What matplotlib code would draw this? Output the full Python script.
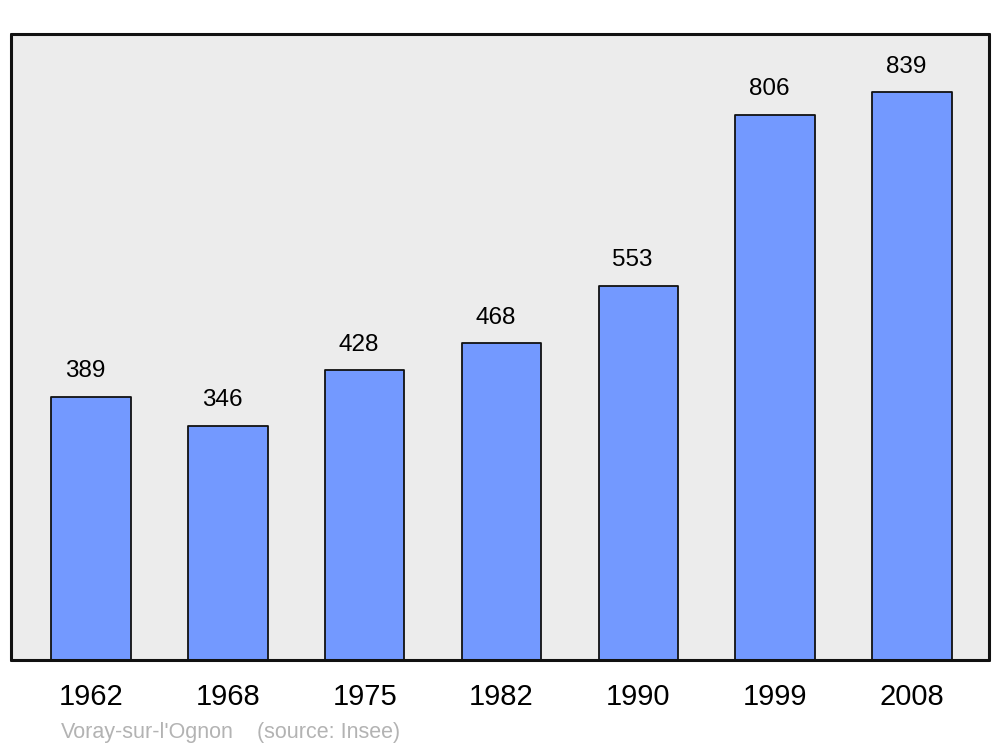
import matplotlib
matplotlib.use("Agg")
import matplotlib.pyplot as plt

years = ["1962", "1968", "1975", "1982", "1990", "1999", "2008"]
population = [389, 346, 428, 468, 553, 806, 839]
commune = "Voray-sur-l'Ognon"
source = "(source: Insee)"

plt.rcParams["font.family"] = ["Liberation Sans", "DejaVu Sans"]

fig = plt.figure(figsize=(10, 7.47), dpi=100)
ax = fig.add_axes([0.011, 0.1165, 0.978, 0.838])
ax.set_facecolor("#ececec")

x = range(len(years))
bars = ax.bar(x, population, width=0.58, color="#7399ff",
              edgecolor="#111111", linewidth=1.3)
for b in bars:
    b.set_joinstyle("round")

for xi, v in zip(x, population):
    ax.annotate(str(v), (xi, v), xytext=(-4, 10.5), textcoords="offset points",
                ha="center", va="bottom", fontsize=17.5)

ax.set_xlim(-0.585, 6.564)
ax.set_ylim(0, 925)
ax.set_xticks(list(x))
ax.set_xticklabels(years, fontsize=21)
ax.tick_params(axis="x", length=0, pad=16.5)
ax.set_yticks([])
for s in ax.spines.values():
    s.set_linewidth(2.2)
    s.set_color("#111111")
    s.set_capstyle("round")
    s.set_joinstyle("round")

fig.text(0.061, 0.019, commune, fontsize=15.5, color="#b3b3b3", va="center")
fig.text(0.257, 0.019, source, fontsize=15.5, color="#b3b3b3", va="center")

fig.savefig("out.png", dpi=100)
